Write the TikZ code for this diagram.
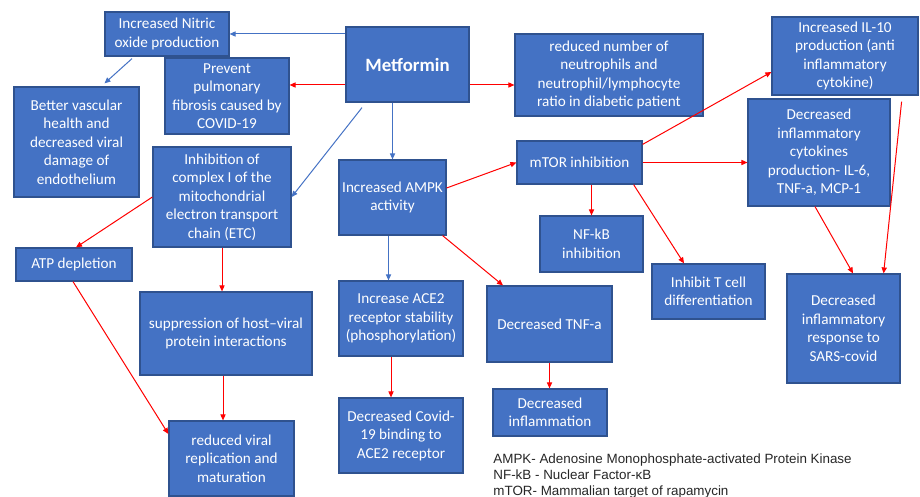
\documentclass[tikz,border=0pt]{standalone}
\usepackage{fontspec}
\setmainfont{Carlito}
\newfontfamily\notefont{Liberation Sans}
\usetikzlibrary{arrows.meta,calc}
\definecolor{boxblue}{HTML}{4472C4}
\definecolor{boxline}{HTML}{2F528F}
\definecolor{linkblue}{HTML}{4472C4}
\definecolor{linkred}{HTML}{FF0000}
\tikzset{
  path box/.style={draw=boxline,fill=boxblue,text=white,align=center,inner sep=1pt,line width=0.6pt,font=\fontsize{7.6}{9.25}\selectfont},
  box size/.style 2 args={minimum width=#1*0.5pt,minimum height=#2*0.5pt},
  blue link/.style={-{Triangle[length=3pt,width=2.6pt]},linkblue,line width=0.5pt},
  red link/.style={-{Triangle[length=3pt,width=2.6pt]},linkred,line width=0.5pt},
  note text/.style={align=left,anchor=north west,inner sep=0pt,text=black!85,font=\notefont\fontsize{6.7}{8}\selectfont},
}

\begin{document}
\begin{tikzpicture}[x=0.5pt,y=-0.5pt]
  \useasboundingbox (0,0) rectangle (920,497);
  % top row
  \node[path box,box size={123}{75},font=\fontsize{9.4}{11}\selectfont\bfseries] (met) at (407.5,64.5) {Metformin};
  \node[path box,box size={124}{44}] (nitric) at (167,34) {Increased Nitric\\oxide production};
  \node[path box,box size={124}{76}] (prevent) at (227,96) {Prevent\\pulmonary\\fibrosis caused by\\COVID-19};
  \node[path box,box size={125}{110}] (better) at (76.5,142) {Better vascular\\health and\\decreased viral\\damage of\\endothelium};
  \node[path box,box size={188}{82}] (neutro) at (609,75) {reduced number of\\neutrophils and\\neutrophil/lymphocyte\\ratio in diabetic patient};
  \node[path box,box size={146}{78}] (il10) at (845,56) {Increased IL-10\\production (anti\\inflammatory\\cytokine)};
  % middle row
  \node[path box,box size={138}{100}] (complexI) at (222,197) {Inhibition of\\complex I of the\\mitochondrial\\electron transport\\chain (ETC)};
  \node[path box,box size={107}{75}] (ampk) at (392.5,197.5) {Increased AMPK\\activity};
  \node[path box,box size={125}{43}] (mtor) at (579.5,162.5) {mTOR inhibition};
  \node[path box,box size={142}{107}] (cyto) at (819,152.5) {Decreased\\inflammatory\\cytokines\\production- IL-6,\\TNF-a, MCP-1};
  \node[path box,box size={103}{56}] (nfkb) at (591.5,244) {NF-kB\\inhibition};
  \node[path box,box size={116}{33}] (atp) at (74,264.5) {ATP depletion};
  \node[path box,box size={113}{55}] (tcell) at (708.5,291.5) {Inhibit T cell\\differentiation};
  % lower rows
  \node[path box,box size={172}{83}] (suppr) at (226,333.5) {suppression of host–viral\\protein interactions};
  \node[path box,box size={124}{75}] (ace2) at (401,318.5) {Increase ACE2\\receptor stability\\(phosphorylation)};
  \node[path box,box size={125}{76}] (tnf) at (549.5,324) {Decreased TNF-a};
  \node[path box,box size={113}{109}] (resp) at (843.5,328.5) {Decreased\\inflammatory\\response to\\SARS-covid};
  \node[path box,box size={125}{75}] (viral) at (231.5,458.5) {reduced viral\\replication and\\maturation};
  \node[path box,box size={124}{75}] (covid) at (401,435.5) {Decreased Covid-\\19 binding to\\ACE2 receptor};
  \node[path box,box size={114}{47}] (infl) at (550,412.5) {Decreased\\inflammation};
  \node[note text] (legend) at (493,453) {AMPK- Adenosine Monophosphate-activated Protein Kinase\\NF-kB - Nuclear Factor-κB\\mTOR- Mammalian target of rapamycin};
  % blue links
  \draw[blue link] (met.west |- nitric.east) -- (nitric.east);
  \draw[blue link] ([xshift=-17.5pt,yshift=-1pt]nitric.south) -- ([xshift=14pt,yshift=1.5pt]better.north);
  \draw[blue link] ([xshift=-22.75pt,yshift=-2.5pt]met.south) -- (complexI.east);
  \draw[blue link] (met.south -| ampk.north) -- (ampk.north);
  \draw[blue link] ([xshift=-2pt]ampk.south) -- ([xshift=-2pt]ampk.south |- ace2.north);
  % red links
  \draw[red link] ([yshift=-10.25pt]met.west) -- ([yshift=-10.25pt]met.west -| prevent.east);
  \draw[red link] ([yshift=-10.25pt]met.east) -- ([yshift=-10.25pt]met.east -| neutro.west);
  \draw[red link] (complexI.west) -- ([xshift=1pt]atp.north);
  \draw[red link] (complexI.south) -- (complexI.south |- suppr.north);
  \draw[red link] ([xshift=-1.5pt]suppr.south) -- ([xshift=-1.5pt]suppr.south |- viral.north);
  \draw[red link] ([xshift=-0.5pt]atp.south) -- ([yshift=12.25pt]viral.west);
  \draw[red link] ([xshift=-5pt]ace2.south) -- ([xshift=-5pt]ace2.south |- covid.north);
  \draw[red link] ([yshift=4.75pt]ampk.east) -- (mtor.west);
  \draw[red link] ([xshift=-2pt]ampk.south east) -- ([xshift=-23.25pt]tnf.north);
  \draw[red link] ([yshift=-2pt]mtor.north east) -- ([yshift=-8pt]il10.west);
  \draw[red link] (mtor.east) -- (mtor.east -| cyto.west);
  \draw[red link] (mtor.south -| nfkb.north) -- (nfkb.north);
  \draw[red link] ([xshift=-4.5pt]mtor.south east) -- ([xshift=-12.25pt]tcell.north);
  \draw[red link] ([xshift=-2pt]cyto.south) -- ([xshift=4.75pt]resp.north);
  \draw[red link] ([xshift=-8.5pt,yshift=-3pt]il10.south east) -- ([xshift=-8.5pt]resp.north east);
  \draw[red link] (tnf.south) -- (tnf.south |- infl.north);
\end{tikzpicture}
\end{document}
